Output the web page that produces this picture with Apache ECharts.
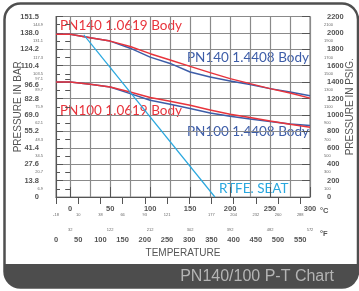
<!DOCTYPE html>
<html>
<head>
<meta charset="utf-8">
<script src="https://cdn.jsdelivr.net/npm/echarts@6/dist/echarts.min.js"></script>
<style>
html, body { margin: 0; padding: 0; background: #fff; }
#main { width: 359px; height: 291px; }
</style>
</head>
<body>
<div id="main"></div>
<script>
// temperatures (°C) and allowed pressure (psig)
var temps = [-17.8, 0, 25, 50, 75, 100, 125, 150, 175, 200, 225, 250, 275, 300]
var pn140Carbon = [1985, 1985, 1940, 1900, 1835, 1747, 1670, 1592, 1516, 1443, 1382, 1321, 1267, 1205]
var pn140Stainless = [1985, 1985, 1940, 1900, 1814, 1705, 1628, 1523, 1462, 1414, 1370, 1321, 1280, 1235]
var pn100Carbon = [1401, 1401, 1374, 1341, 1280, 1212, 1167, 1118, 1061, 1009, 969, 927, 887, 850]
var pn100Stainless = [1401, 1401, 1374, 1341, 1260, 1179, 1130, 1078, 1025, 985, 952, 920, 891, 870]
var ptfeTemps = [17, 181]
var ptfeSeat = [1975, 0]

// left axis (bar) tick labels, placed at psig values
var barMajorAt = [0, 200, 400, 600, 800, 1000, 1200, 1400, 1600, 1800, 2000, 2200]
var barMajor = ['0', '13.8', '27.6', '41.4', '55.2', '69.0', '82.8', '96.6', '110.4', '124.2', '138.0', '151.5']
var barMinorAt = [100, 300, 500, 700, 900, 1100, 1300, 1435, 1500, 1700, 1900, 2100]
var barMinor = ['6.9', '20.7', '34.5', '48.3', '62.1', '75.9', '89.7', '97.1', '103.5', '117.3', '131.1', '144.9']

// right axis (psig)
var psiMajor = [0, 200, 400, 600, 800, 1000, 1200, 1400, 1600, 1800, 2000, 2200]
var psiMinor = [100, 300, 500, 700, 900, 1100, 1300, 1500, 1700, 1900, 2100]

// temperature scales
var celsiusMajor = [0, 50, 100, 150, 200, 250, 300]
var fahrenheitOfCelsius = ['32', '122', '212', '302', '392', '482', '572']
var fahrenheitMajor = [0, 50, 100, 150, 200, 250, 300, 350, 400, 450, 500, 550]
var celsiusOfFahrenheitAt = [0, 50, 100, 150, 200, 250, 350, 400, 450, 500, 550]
var celsiusOfFahrenheit = ['-18', '10', '38', '66', '93', '121', '177', '204', '232', '260', '288']

var cMin = -160 / 9
var fMax = 572
var lineOffset = 29
var axisGray = '#555'
var gridGray = '#8a8a8a'
var red = '#e8343c'
var blue = '#3d5da8'
var cyan = '#2aa8df'
var labelFont = 'Liberation Sans, Arial, sans-serif'
var nameFont = 'Liberation Sans Narrow, Liberation Sans, sans-serif'
var curveFont = 'Lato, Open Sans, sans-serif'

function pairs (xs, ys) {
  return xs.map(function (x, i) { return [x, ys[i]] })
}
function pick (values, labels) {
  return function (v) {
    for (var i = 0; i < values.length; i++) {
      if (Math.abs(values[i] - v) < 1e-6) return labels[i]
    }
    return ''
  }
}
function plain (v) {
  return String(Math.round(v))
}

var bigLabel = { fontSize: 7.5, fontWeight: 'bold', color: axisGray, fontFamily: labelFont }
var smallLabel = { fontSize: 4, color: '#666', fontFamily: labelFont }

var myChart = echarts.init(document.getElementById('main'))
myChart.setOption({
  animation: false,
  grid: {
    left: 56,
    right: 49,
    top: 16.5,
    bottom: 94,
    show: true,
    borderColor: gridGray,
    borderWidth: 1.2,
    outerBoundsMode: 'none'
  },
  xAxis: [
    {
      // data axis
      type: 'value', min: cMin, max: 300, show: false
    },
    {
      // grid lines every 25 °C, counted from 300 downwards
      type: 'value', min: 0, max: 300 - cMin, interval: 25, inverse: true,
      axisLine: { show: false }, axisTick: { show: false }, axisLabel: { show: false },
      splitLine: { show: true, lineStyle: { color: gridGray, width: 1.2 } }
    },
    {
      // °C main scale
      type: 'value', min: cMin, max: 300, position: 'bottom', offset: lineOffset,
      axisLine: { show: true, lineStyle: { color: axisGray, width: 1 } },
      axisTick: { show: true, inside: true, length: 10, customValues: celsiusMajor, lineStyle: { color: axisGray } },
      axisLabel: Object.assign({ inside: true, margin: 13, customValues: celsiusMajor, formatter: plain }, bigLabel),
      splitLine: { show: false }
    },
    {
      // °C equivalents of the °F ticks
      type: 'value', min: 0, max: fMax, position: 'bottom', offset: lineOffset,
      axisLine: { show: false }, axisTick: { show: false },
      axisLabel: Object.assign({ inside: true, margin: 9, customValues: celsiusOfFahrenheitAt, formatter: pick(celsiusOfFahrenheitAt, celsiusOfFahrenheit) }, smallLabel),
      splitLine: { show: false }
    },
    {
      // °F main scale
      type: 'value', min: 0, max: fMax, position: 'bottom', offset: lineOffset,
      name: 'TEMPERATURE', nameLocation: 'middle', nameGap: 22, nameMoveOverlap: false,
      nameTextStyle: { fontSize: 10, color: axisGray, fontFamily: nameFont },
      axisLine: { show: false },
      axisTick: { show: true, length: 7, customValues: fahrenheitMajor, lineStyle: { color: axisGray } },
      axisLabel: Object.assign({ margin: 10, customValues: fahrenheitMajor, formatter: plain }, bigLabel),
      splitLine: { show: false }
    },
    {
      // °F equivalents of the °C ticks
      type: 'value', min: cMin, max: 300, position: 'bottom', offset: lineOffset,
      axisLine: { show: false }, axisTick: { show: false },
      axisLabel: Object.assign({ margin: 1.5, customValues: celsiusMajor, formatter: pick(celsiusMajor, fahrenheitOfCelsius) }, smallLabel),
      splitLine: { show: false }
    }
  ],
  yAxis: [
    {
      type: 'value', min: 0, max: 2200, interval: 200,
      axisLine: { show: false }, axisTick: { show: false }, axisLabel: { show: false },
      splitLine: { show: true, lineStyle: { color: gridGray, width: 1.2 } }
    },
    {
      type: 'value', min: 0, max: 2200, position: 'left', offset: 7,
      name: 'PRESSURE IN BAR', nameLocation: 'middle', nameGap: 26, nameRotate: 90, nameMoveOverlap: false,
      nameTextStyle: { fontSize: 10, color: axisGray, fontFamily: nameFont },
      axisLine: { show: false },
      axisTick: { show: true, length: 8, customValues: barMajorAt, lineStyle: { color: axisGray } },
      axisLabel: Object.assign({
        margin: 10,
        customValues: barMajorAt,
        formatter: function (v) {
          var s = pick(barMajorAt, barMajor)(v)
          return v === 1400 ? '{low|' + s + '}' : s
        },
        rich: { low: { fontSize: 7.5, fontWeight: 'bold', color: axisGray, fontFamily: labelFont, padding: [6, 0, 0, 0] } }
      }, bigLabel),
      splitLine: { show: false }
    },
    {
      type: 'value', min: 0, max: 2200, position: 'left', offset: 7,
      axisLine: { show: false },
      axisTick: { show: true, length: 5, customValues: barMinorAt, lineStyle: { color: axisGray } },
      axisLabel: Object.assign({ margin: 6, customValues: barMinorAt, formatter: pick(barMinorAt, barMinor) }, smallLabel),
      splitLine: { show: false }
    },
    {
      type: 'value', min: 0, max: 2200, position: 'right', offset: 8,
      name: 'PRESSURE IN PSIG.', nameLocation: 'middle', nameGap: 27, nameRotate: 90, nameMoveOverlap: false,
      nameTextStyle: { fontSize: 10, color: axisGray, fontFamily: nameFont },
      axisLine: { show: true, lineStyle: { color: axisGray, width: 1 } },
      axisTick: { show: true, length: 7, customValues: psiMajor, lineStyle: { color: axisGray } },
      axisLabel: Object.assign({ margin: 9, customValues: psiMajor, formatter: plain }, bigLabel),
      splitLine: { show: false }
    },
    {
      type: 'value', min: 0, max: 2200, position: 'right', offset: 8,
      axisLine: { show: false },
      axisTick: { show: true, length: 4, customValues: psiMinor, lineStyle: { color: axisGray } },
      axisLabel: Object.assign({ margin: 6, customValues: psiMinor, formatter: plain }, smallLabel),
      splitLine: { show: false }
    }
  ],
  series: [
    {
      name: 'PN140 1.4408 Body', type: 'line', xAxisIndex: 0, yAxisIndex: 0,
      data: pairs(temps, pn140Stainless), symbol: 'none',
      lineStyle: { color: blue, width: 1.5 }
    },
    {
      name: 'PN100 1.4408 Body', type: 'line', xAxisIndex: 0, yAxisIndex: 0,
      data: pairs(temps, pn100Stainless), symbol: 'none',
      lineStyle: { color: blue, width: 1.5 }
    },
    {
      name: 'PN140 1.0619 Body', type: 'line', xAxisIndex: 0, yAxisIndex: 0,
      data: pairs(temps, pn140Carbon), symbol: 'none',
      lineStyle: { color: red, width: 1.5 }
    },
    {
      name: 'PN100 1.0619 Body', type: 'line', xAxisIndex: 0, yAxisIndex: 0,
      data: pairs(temps, pn100Carbon), symbol: 'none',
      lineStyle: { color: red, width: 1.5 }
    },
    {
      name: 'RTFE. SEAT', type: 'line', xAxisIndex: 0, yAxisIndex: 0,
      data: pairs(ptfeTemps, ptfeSeat), symbol: 'none',
      lineStyle: { color: cyan, width: 1.2 }
    }
  ],
  graphic: [
    {
      type: 'rect', z: -10, silent: true,
      shape: { x: 4.5, y: 3.5, width: 353.5, height: 284, r: 16 },
      style: { fill: 'none', stroke: '#4f4f4f', lineWidth: 2.5 }
    },
    {
      type: 'rect', z: -9, silent: true,
      shape: { x: 4.5, y: 264, width: 353.5, height: 23.5, r: [0, 0, 16, 16] },
      style: { fill: '#4d4d4d' }
    },
    {
      type: 'text', x: 334, y: 277,
      style: { text: 'PN140/100 P-T Chart', fill: '#b4b4b4', font: '16px Liberation Sans, Arial, sans-serif', align: 'right', verticalAlign: 'middle' }
    },
    {
      type: 'text', x: 60, y: 26,
      style: { text: 'PN140 1.0619 Body', fill: red, font: '13.5px ' + curveFont, verticalAlign: 'middle' }
    },
    {
      type: 'text', x: 187, y: 58,
      style: { text: 'PN140 1.4408 Body', fill: blue, font: '13.5px ' + curveFont, verticalAlign: 'middle' }
    },
    {
      type: 'text', x: 60, y: 111,
      style: { text: 'PN100 1.0619 Body', fill: red, font: '13.5px ' + curveFont, verticalAlign: 'middle' }
    },
    {
      type: 'text', x: 187, y: 132,
      style: { text: 'PN100 1.4408 Body', fill: blue, font: '13.5px ' + curveFont, verticalAlign: 'middle' }
    },
    {
      type: 'text', x: 219, y: 189,
      style: { text: 'RTFE. SEAT', fill: cyan, font: '13.5px ' + curveFont, verticalAlign: 'middle' }
    },
    {
      type: 'text', x: 320, y: 211,
      style: { text: '°C', fill: axisGray, font: 'bold 7.5px ' + labelFont, verticalAlign: 'middle' }
    },
    {
      type: 'text', x: 320, y: 234,
      style: { text: '°F', fill: axisGray, font: 'bold 7.5px ' + labelFont, verticalAlign: 'middle' }
    }
  ]
})
</script>
</body>
</html>
